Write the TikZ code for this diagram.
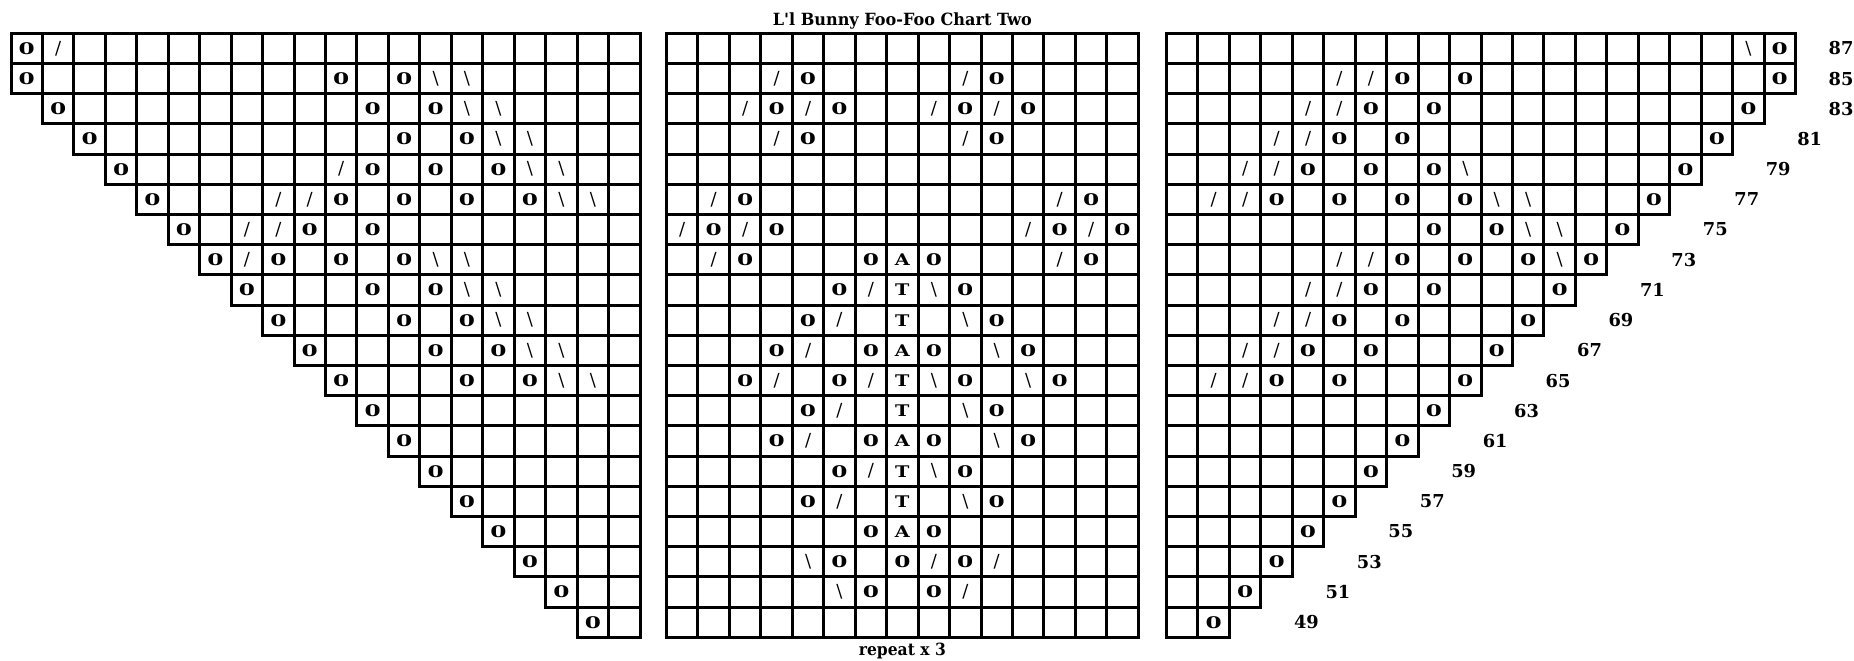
\documentclass[tikz,border=0pt]{standalone}
\usepackage{graphicx}
\usepackage{fontspec}
\setmainfont{Liberation Serif}
\newfontfamily\symfam{DejaVu Serif}

% chart symbols
\newcommand{\ko}{{\symfam\bfseries\scalebox{1.45}[1]{0}}}
\newcommand{\ks}{{\symfam\fontsize{9}{10}\selectfont /}}
\newcommand{\kb}{{\symfam\fontsize{9}{10}\selectfont\textbackslash}}
\newcommand{\kA}{{\symfam\bfseries\scalebox{1.2}[1]{A}}}
\newcommand{\kT}{{\symfam\bfseries\scalebox{1.2}[1]{T}}}

\tikzset{
  gridline/.style={line width=1.5pt, line join=miter},
  cellsym/.style={inner sep=0pt, font=\fontsize{8}{10}\selectfont},
  rowlabel/.style={inner sep=0pt, font=\symfam\bfseries\fontsize{8.9}{10}\selectfont},
  caption/.style={inner sep=0pt, anchor=base, font=\symfam\bfseries\fontsize{8.4}{10}\selectfont}
}
\def\cw{31.45}
\def\ch{30.2}
\def\gy{33.3}
\def\lx{11}
\def\mx{666.5}
\def\rx{1166.5}

\begin{document}
\begin{tikzpicture}[x=0.5pt,y=-0.5pt]
  \useasboundingbox (0,0) rectangle (1854,660);

  % left panel
  \foreach \r in {1,...,20}{
    \pgfmathtruncatemacro\s{max(1,\r-1)}
    \foreach \c in {\s,...,20}
      \draw[gridline] ({\lx+(\c-1)*\cw},{\gy+(\r-1)*\ch}) rectangle ++(\cw,\ch);
  }
  \foreach \r/\c/\g in {1/1/o,1/2/s,
      2/1/o,2/11/o,2/13/o,2/14/b,2/15/b,
      3/2/o,3/12/o,3/14/o,3/15/b,3/16/b,
      4/3/o,4/13/o,4/15/o,4/16/b,4/17/b,
      5/4/o,5/11/s,5/12/o,5/14/o,5/16/o,5/17/b,5/18/b,
      6/5/o,6/9/s,6/10/s,6/11/o,6/13/o,6/15/o,6/17/o,6/18/b,6/19/b,
      7/6/o,7/8/s,7/9/s,7/10/o,7/12/o,
      8/7/o,8/8/s,8/9/o,8/11/o,8/13/o,8/14/b,8/15/b,
      9/8/o,9/12/o,9/14/o,9/15/b,9/16/b,
      10/9/o,10/13/o,10/15/o,10/16/b,10/17/b,
      11/10/o,11/14/o,11/16/o,11/17/b,11/18/b,
      12/11/o,12/15/o,12/17/o,12/18/b,12/19/b}
    \node[cellsym] (L-\r-\c) at ({\lx+(\c-0.5)*\cw},{\gy+(\r-0.5)*\ch}) {\csname k\g\endcsname};
  \foreach \r in {13,...,20}{
    \pgfmathtruncatemacro\c{\r-1}
    \node[cellsym] (L-\r-\c) at ({\lx+(\c-0.5)*\cw},{\gy+(\r-0.5)*\ch}) {\ko};
  }

  % middle panel (repeat)
  \foreach \r in {1,...,20}
    \foreach \c in {1,...,15}
      \draw[gridline] ({\mx+(\c-1)*\cw},{\gy+(\r-1)*\ch}) rectangle ++(\cw,\ch);
  \foreach \r/\c/\g in {2/4/s,2/5/o,2/10/s,2/11/o,
      3/3/s,3/4/o,3/5/s,3/6/o,3/9/s,3/10/o,3/11/s,3/12/o,
      4/4/s,4/5/o,4/10/s,4/11/o,
      6/2/s,6/3/o,6/13/s,6/14/o,
      7/1/s,7/2/o,7/3/s,7/4/o,7/12/s,7/13/o,7/14/s,7/15/o,
      8/2/s,8/3/o,8/7/o,8/8/A,8/9/o,8/13/s,8/14/o,
      9/6/o,9/7/s,9/8/T,9/9/b,9/10/o,
      10/5/o,10/6/s,10/8/T,10/10/b,10/11/o,
      11/4/o,11/5/s,11/7/o,11/8/A,11/9/o,11/11/b,11/12/o,
      12/3/o,12/4/s,12/6/o,12/7/s,12/8/T,12/9/b,12/10/o,12/12/b,12/13/o,
      13/5/o,13/6/s,13/8/T,13/10/b,13/11/o,
      14/4/o,14/5/s,14/7/o,14/8/A,14/9/o,14/11/b,14/12/o,
      15/6/o,15/7/s,15/8/T,15/9/b,15/10/o,
      16/5/o,16/6/s,16/8/T,16/10/b,16/11/o,
      17/7/o,17/8/A,17/9/o,
      18/5/b,18/6/o,18/8/o,18/9/s,18/10/o,18/11/s,
      19/6/b,19/7/o,19/9/o,19/10/s}
    \node[cellsym] (M-\r-\c) at ({\mx+(\c-0.5)*\cw},{\gy+(\r-0.5)*\ch}) {\csname k\g\endcsname};

  % right panel
  \foreach \r in {1,...,20}{
    \pgfmathtruncatemacro\e{min(20,22-\r)}
    \foreach \c in {1,...,\e}
      \draw[gridline] ({\rx+(\c-1)*\cw},{\gy+(\r-1)*\ch}) rectangle ++(\cw,\ch);
  }
  \foreach \r/\c/\g in {1/19/b,1/20/o,
      2/6/s,2/7/s,2/8/o,2/10/o,2/20/o,
      3/5/s,3/6/s,3/7/o,3/9/o,3/19/o,
      4/4/s,4/5/s,4/6/o,4/8/o,4/18/o,
      5/3/s,5/4/s,5/5/o,5/7/o,5/9/o,5/10/b,5/17/o,
      6/2/s,6/3/s,6/4/o,6/6/o,6/8/o,6/10/o,6/11/b,6/12/b,6/16/o,
      7/9/o,7/11/o,7/12/b,7/13/b,7/15/o,
      8/6/s,8/7/s,8/8/o,8/10/o,8/12/o,8/13/b,8/14/o,
      9/5/s,9/6/s,9/7/o,9/9/o,9/13/o,
      10/4/s,10/5/s,10/6/o,10/8/o,10/12/o,
      11/3/s,11/4/s,11/5/o,11/7/o,11/11/o,
      12/2/s,12/3/s,12/4/o,12/6/o,12/10/o}
    \node[cellsym] (R-\r-\c) at ({\rx+(\c-0.5)*\cw},{\gy+(\r-0.5)*\ch}) {\csname k\g\endcsname};
  \foreach \r in {13,...,20}{
    \pgfmathtruncatemacro\c{22-\r}
    \node[cellsym] (R-\r-\c) at ({\rx+(\c-0.5)*\cw},{\gy+(\r-0.5)*\ch}) {\ko};
  }

  % row numbers
  \foreach \r/\n in {1/87,2/85,3/83}
    \node[rowlabel] (row\n) at ({\rx+21.45*\cw},{\gy+(\r-0.5)*\ch}) {\n};
  \foreach \r in {4,...,20}{
    \pgfmathtruncatemacro\n{89-2*\r}
    \node[rowlabel] (row\n) at ({\rx+(24.45-\r)*\cw},{\gy+(\r-0.5)*\ch}) {\n};
  }

  \node[caption] (title) at ({\mx+7.5*\cw},25.5) {\resizebox{129.5pt}{\height}{L'l Bunny Foo-Foo Chart Two}};
  \node[caption] (repeat) at ({\mx+7.5*\cw},655.5) {\resizebox{43.5pt}{\height}{repeat x 3}};
\end{tikzpicture}
\end{document}
